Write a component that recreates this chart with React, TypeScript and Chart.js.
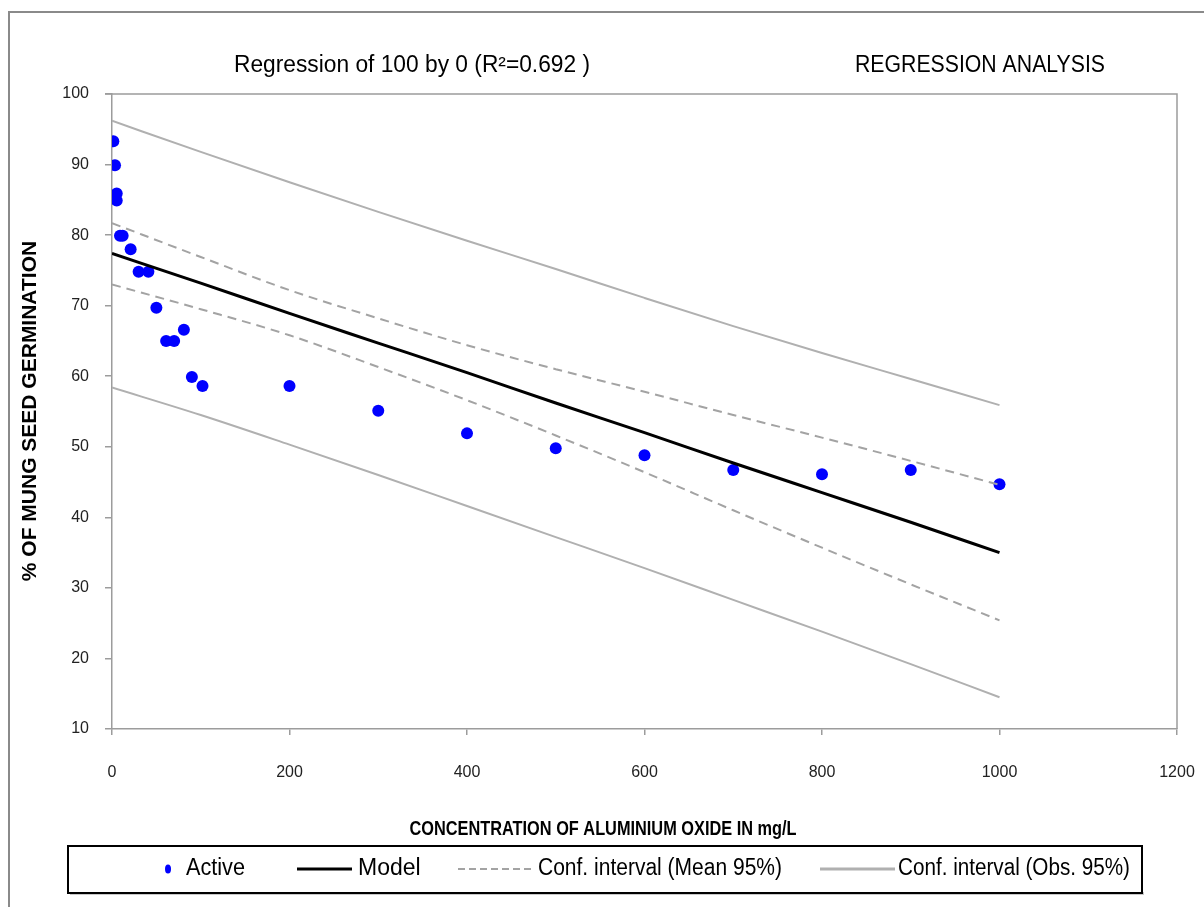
import { useEffect, useRef } from "react";
import { Chart, registerables } from "chart.js";

Chart.register(...registerables);

// ---- data ----
const activeX = [1.5, 3.4, 5.3, 5.3, 9, 12, 21, 30, 41, 50, 61, 70, 81, 90, 102, 200, 300, 400, 500, 600, 700, 800, 900, 1000];
const activeY = [93.3, 89.9, 85.9, 84.9, 79.9, 79.9, 78.0, 74.8, 74.8, 69.7, 65.0, 65.0, 66.6, 59.9, 58.6, 58.6, 55.1, 51.9, 49.8, 48.8, 46.7, 46.1, 46.7, 44.7];

const curveX = [0, 100, 200, 300, 400, 500, 600, 700, 800, 900, 1000];
const modelY = [77.4, 73.2, 68.9, 64.7, 60.5, 56.2, 52.0, 47.7, 43.5, 39.3, 35.0];
const meanUpperY = [81.7, 76.9, 72.2, 68.2, 64.4, 61.0, 57.8, 54.5, 51.3, 48.0, 44.6];
const meanLowerY = [73.0, 69.5, 65.8, 61.3, 56.6, 51.6, 46.4, 41.0, 35.7, 30.5, 25.4];
const obsUpperY = [96.2, 91.8, 87.5, 83.3, 79.2, 75.2, 71.1, 67.1, 63.3, 59.6, 55.9];
const obsLowerY = [58.4, 54.5, 50.3, 46.0, 41.6, 37.2, 32.8, 28.3, 23.8, 19.2, 14.5];

const xTickValues = [0, 200, 400, 600, 800, 1000, 1200];
const yTickValues = [10, 20, 30, 40, 50, 60, 70, 80, 90, 100];

const seriesNames = ["Active", "Model", "Conf. interval (Mean 95%)", "Conf. interval (Obs. 95%)"];
const chartTitle = "Regression of 100 by 0 (R\u00B2=0.692 )";
const sideTitle = "REGRESSION ANALYSIS";
const xTitle = "CONCENTRATION OF ALUMINIUM OXIDE IN mg/L";
const yTitle = "% OF MUNG SEED GERMINATION";

const FONT = '"Liberation Sans", Arial, sans-serif';
const AXIS_GRAY = "#9c9c9c";
const MEAN_GRAY = "#a3a3a3";
const OBS_GRAY = "#b0b0b0";

const toPts = (xs: number[], ys: number[]) => xs.map((x, i) => ({ x, y: ys[i] }));

// draw text horizontally compressed so it spans a given width (narrow look of the original)
function fitText(ctx: CanvasRenderingContext2D, text: string, x: number, y: number, width: number, align: "left" | "center") {
  const w = ctx.measureText(text).width;
  const s = Math.min(1, width / w);
  ctx.save();
  ctx.translate(x, y);
  ctx.scale(s, 1);
  ctx.textAlign = align;
  ctx.fillText(text, 0, 0);
  ctx.restore();
}

const decor = {
  id: "decor",
  afterDraw(chart: any) {
    const ctx = chart.ctx as CanvasRenderingContext2D;
    const a = chart.chartArea;
    ctx.save();
    // outer frame
    ctx.strokeStyle = "#8a8a8a";
    ctx.lineWidth = 2;
    ctx.strokeRect(9, 12, 1400, 1200);
    // plot frame top/right
    ctx.strokeStyle = AXIS_GRAY;
    ctx.lineWidth = 1.5;
    ctx.beginPath();
    ctx.moveTo(a.left - 7, a.top);
    ctx.lineTo(a.right, a.top);
    ctx.lineTo(a.right, a.bottom);
    ctx.stroke();

    // titles
    ctx.fillStyle = "#000";
    ctx.textBaseline = "middle";
    ctx.font = `23px ${FONT}`;
    fitText(ctx, chartTitle, 412, 66, 356, "center");
    fitText(ctx, sideTitle, 980, 66, 250, "center");

    // axis titles
    ctx.font = `bold 21px ${FONT}`;
    fitText(ctx, xTitle, 603, 829, 387, "center");
    ctx.save();
    ctx.translate(30, 411);
    ctx.rotate(-Math.PI / 2);
    ctx.font = `bold 21px ${FONT}`;
    fitText(ctx, yTitle, 0, 0, 358, "center");
    ctx.restore();

    // legend box
    ctx.fillStyle = "#c8c8c8";
    ctx.fillRect(70, 892, 1074, 3);
    ctx.fillStyle = "#fff";
    ctx.fillRect(68, 846, 1074, 47);
    ctx.strokeStyle = "#000";
    ctx.lineWidth = 2;
    ctx.strokeRect(68, 846, 1074, 47);

    const ly = 869;
    ctx.font = `23px ${FONT}`;
    ctx.fillStyle = "#000";
    // Active
    ctx.fillStyle = "#0000ff";
    ctx.beginPath();
    ctx.ellipse(168, ly, 3, 4.5, 0, 0, Math.PI * 2);
    ctx.fill();
    ctx.fillStyle = "#000";
    fitText(ctx, seriesNames[0], 186, ly, 59, "left");
    // Model
    ctx.strokeStyle = "#000";
    ctx.lineWidth = 3;
    ctx.beginPath();
    ctx.moveTo(297, ly);
    ctx.lineTo(352, ly);
    ctx.stroke();
    fitText(ctx, seriesNames[1], 358, ly, 65, "left");
    // Mean CI
    ctx.strokeStyle = MEAN_GRAY;
    ctx.lineWidth = 2;
    ctx.setLineDash([7, 4]);
    ctx.beginPath();
    ctx.moveTo(458, ly);
    ctx.lineTo(532, ly);
    ctx.stroke();
    ctx.setLineDash([]);
    fitText(ctx, seriesNames[2], 538, ly, 244, "left");
    // Obs CI
    ctx.strokeStyle = OBS_GRAY;
    ctx.lineWidth = 3;
    ctx.beginPath();
    ctx.moveTo(820, ly);
    ctx.lineTo(895, ly);
    ctx.stroke();
    fitText(ctx, seriesNames[3], 898, ly, 232, "left");
    ctx.restore();
  },
};

export default function App() {
  const ref = useRef<HTMLCanvasElement | null>(null);
  useEffect(() => {
    if (!ref.current) return;
    const lineDs = (label: string, ys: number[], color: string, width: number, dash: number[]) => ({
      label,
      data: toPts(curveX, ys),
      showLine: true,
      borderColor: color,
      backgroundColor: color,
      borderWidth: width,
      borderDash: dash,
      pointRadius: 0,
      cubicInterpolationMode: "monotone" as const,
      fill: false,
    });
    const chart = new Chart(ref.current, {
      type: "scatter",
      data: {
        datasets: [
          lineDs(seriesNames[3] + " upper", obsUpperY, OBS_GRAY, 2, []),
          lineDs(seriesNames[3] + " lower", obsLowerY, OBS_GRAY, 2, []),
          lineDs(seriesNames[2] + " upper", meanUpperY, MEAN_GRAY, 2, [9, 6]),
          lineDs(seriesNames[2] + " lower", meanLowerY, MEAN_GRAY, 2, [9, 6]),
          lineDs(seriesNames[1], modelY, "#000000", 3, []),
          {
            label: seriesNames[0],
            data: toPts(activeX, activeY),
            pointRadius: 6,
            pointBackgroundColor: "#0000ff",
            pointBorderColor: "#0000ff",
            pointBorderWidth: 0,
            showLine: false,
          },
        ],
      },
      options: {
        responsive: false,
        animation: false,
        devicePixelRatio: 1,
        layout: { padding: { left: 0, top: 94, right: 27, bottom: 0 } },
        plugins: { legend: { display: false }, title: { display: false }, tooltip: { enabled: false } },
        scales: {
          x: {
            type: "linear",
            min: 0,
            max: 1200,
            afterBuildTicks: (s: any) => {
              s.ticks = xTickValues.map((v) => ({ value: v }));
            },
            afterFit: (s: any) => {
              s.height = 178;
              s.paddingLeft = 0;
              s.paddingRight = 0;
            },
            ticks: {
              color: "#222",
              font: { family: FONT, size: 16 },
              padding: 28,
              maxRotation: 0,
              callback: (v: any) => String(v),
            },
            grid: { drawOnChartArea: false, drawTicks: true, tickLength: 6, color: AXIS_GRAY, lineWidth: 1.5 },
            border: { display: true, color: AXIS_GRAY, width: 1.5 },
          },
          y: {
            type: "linear",
            min: 10,
            max: 100,
            afterBuildTicks: (s: any) => {
              s.ticks = yTickValues.map((v) => ({ value: v }));
            },
            afterFit: (s: any) => {
              s.width = 112;
              s.paddingTop = 0;
              s.paddingBottom = 0;
            },
            ticks: { color: "#222", font: { family: FONT, size: 16 }, padding: 16, callback: (v: any) => String(v) },
            grid: { drawOnChartArea: false, drawTicks: true, tickLength: 7, color: AXIS_GRAY, lineWidth: 1.5 },
            border: { display: true, color: AXIS_GRAY, width: 1.5 },
          },
        },
      },
      plugins: [decor],
    });
    return () => chart.destroy();
  }, []);
  return (
    <div style={{ position: "absolute", left: 0, top: 0, width: 1204, height: 907, background: "#fff" }}>
      <canvas ref={ref} width={1204} height={907} style={{ width: 1204, height: 907, display: "block" }} />
    </div>
  );
}
